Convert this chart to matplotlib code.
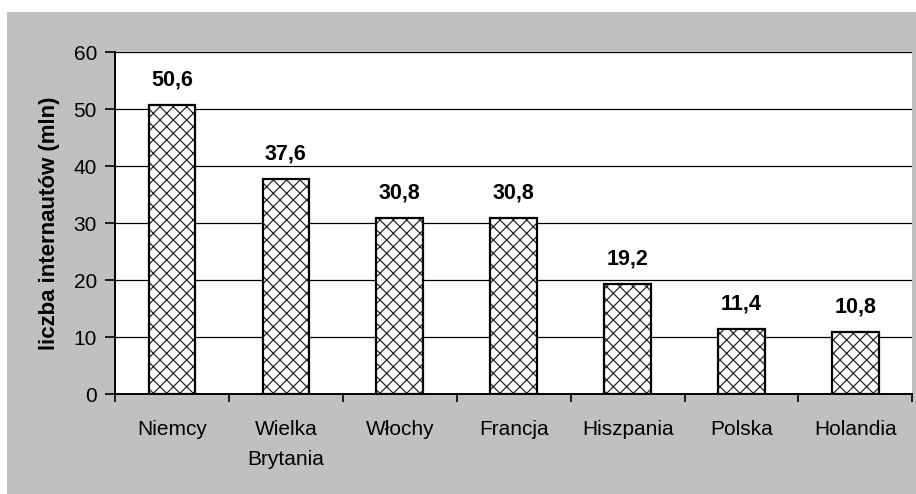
import matplotlib.pyplot as plt
from matplotlib.patches import Rectangle
import numpy as np

# dane
kraje = ['Niemcy', 'Wielka\nBrytania', 'Włochy', 'Francja', 'Hiszpania', 'Polska', 'Holandia']
internauci = [50.6, 37.6, 30.8, 30.8, 19.2, 11.4, 10.8]
y_ticks = [0, 10, 20, 30, 40, 50, 60]

# nizsze dpi -> gestszy wzor kreskowania; rozmiary w pt przeskalowane
DPI = 80
S = 100 / DPI

plt.rcParams['font.family'] = ['Liberation Sans', 'DejaVu Sans']
plt.rcParams['hatch.linewidth'] = 0.9 * S

fig = plt.figure(figsize=(916.4 / DPI, 494.4 / DPI), dpi=DPI, facecolor='white')
# szare tlo wykresu
fig.patches.append(Rectangle((7 / 916, 0), 1, 1 - 12 / 494, transform=fig.transFigure,
                             facecolor='#c0c0c0', edgecolor='none', zorder=-5))
ax = fig.add_axes([115 / 916, 1 - 394 / 494, (912 - 115) / 916, (394 - 52) / 494])
ax.set_facecolor('white')

x = np.arange(len(kraje))
ax.bar(x, internauci, width=0.41, color='white', edgecolor='#2a2a2a', hatch='xx',
       linewidth=0, zorder=2)
ax.bar(x, internauci, width=0.41, fill=False, edgecolor='black', linewidth=1.6 * S, zorder=3)

for xi, v in zip(x, internauci):
    ax.annotate(f'{v:.1f}'.replace('.', ','), (xi, v), xytext=(0, 11 * S),
                textcoords='offset points', ha='center', va='bottom',
                fontsize=15.5 * S, fontweight='bold')

ax.set_xlim(-0.5, len(kraje) - 0.5)
ax.set_ylim(0, 60)
ax.set_yticks(y_ticks)
ax.set_yticklabels([str(t) for t in y_ticks], fontsize=15 * S)
ax.yaxis.grid(True, color='black', linewidth=0.9 * S)
ax.set_axisbelow(True)

ax.set_xticks(x)
ax.set_xticklabels(kraje, fontsize=15 * S, linespacing=1.75)
ax.set_xticks(np.arange(-0.5, len(kraje)), minor=True)
ax.tick_params(axis='x', which='major', length=0, pad=18.5 * S)
ax.tick_params(axis='x', which='minor', length=6 * S, width=1.2 * S, direction='out')
ax.tick_params(axis='y', length=7 * S, width=1.2 * S, pad=6 * S)

for s in ['top', 'right']:
    ax.spines[s].set_visible(False)
ax.spines['left'].set_linewidth(1.4 * S)
ax.spines['bottom'].set_linewidth(1.4 * S)

ax.set_ylabel('liczba internautów (mln)', fontsize=16 * S, fontweight='bold', labelpad=10 * S)

fig.savefig('out.png', dpi=DPI, facecolor='white')
